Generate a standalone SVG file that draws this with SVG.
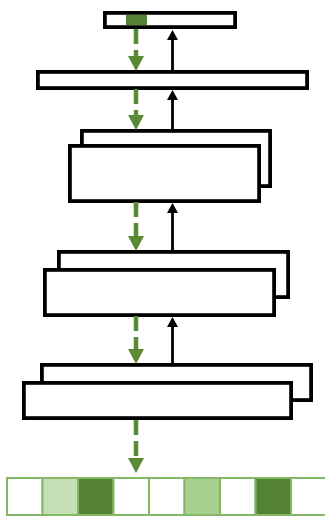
<svg xmlns="http://www.w3.org/2000/svg" width="325" height="519" viewBox="0 0 325 519">
  <style>
    .box { fill: #ffffff; stroke: #000000; stroke-width: 3.8; }
    .down { fill: none; stroke: #5a8a33; stroke-width: 4.5; stroke-dasharray: 15 6; }
    .up { fill: none; stroke: #000000; stroke-width: 2.8; }
    .cell { stroke: #84b766; stroke-width: 2; }
    .c0 { fill: #ffffff; }
    .c1 { fill: #c5e0b4; }
    .c2 { fill: #a9d18e; }
    .c3 { fill: #548235; }
  </style>
  <defs>
    <marker id="headDown" markerUnits="userSpaceOnUse" markerWidth="16" markerHeight="16" viewBox="0 0 16 16" refX="8" refY="0" orient="0" overflow="visible">
      <polygon points="0,0 16,0 8,15" fill="#5a8a33"/>
    </marker>
    <marker id="headUp" markerUnits="userSpaceOnUse" markerWidth="11" markerHeight="11" viewBox="0 0 11 11" refX="5.5" refY="0" orient="0" overflow="visible">
      <polygon points="0,0 11,0 5.5,-10" fill="#000000"/>
    </marker>
  </defs>

  <g id="input-row">
    <rect class="box" x="104.9" y="12.9" width="130.2" height="14.2"/>
    <rect x="126" y="14.8" width="21" height="10.4" fill="#548235"/>
  </g>

  <g id="layer-1">
    <rect class="box" x="37.9" y="71.9" width="269.2" height="16.2"/>
  </g>

  <g id="layer-2">
    <rect class="box" x="81.9" y="130.9" width="188.2" height="55.2"/>
    <rect class="box" x="69.9" y="145.9" width="189.2" height="55.2"/>
  </g>

  <g id="layer-3">
    <rect class="box" x="58.9" y="251.9" width="229.2" height="45.2"/>
    <rect class="box" x="44.9" y="269.9" width="229.2" height="45.2"/>
  </g>

  <g id="layer-4">
    <rect class="box" x="41.9" y="364.9" width="269.2" height="35.2"/>
    <rect class="box" x="23.9" y="382.9" width="267.2" height="35.2"/>
  </g>

  <g id="output-row">
    <rect class="cell c0" x="7" y="478" width="35.5" height="37"/>
    <rect class="cell c1" x="42.5" y="478" width="35.5" height="37"/>
    <rect class="cell c3" x="78" y="478" width="35.5" height="37"/>
    <rect class="cell c0" x="113.5" y="478" width="35.5" height="37"/>
    <rect class="cell c0" x="149" y="478" width="35.5" height="37"/>
    <rect class="cell c2" x="184.5" y="478" width="35.5" height="37"/>
    <rect class="cell c0" x="220" y="478" width="35.5" height="37"/>
    <rect class="cell c3" x="255.5" y="478" width="35.5" height="37"/>
    <rect class="cell c0" x="291" y="478" width="35.5" height="37"/>
  </g>

  <g id="connectors">
    <!-- dashed green: forward pass, downward -->
    <path class="down" d="M136 29 V56" marker-end="url(#headDown)"/>
    <path class="down" d="M136 89 V115" marker-end="url(#headDown)"/>
    <path class="down" d="M136 202 V236" marker-end="url(#headDown)"/>
    <path class="down" d="M136 316 V349" marker-end="url(#headDown)"/>
    <path class="down" d="M136 420 V458" marker-end="url(#headDown)"/>
    <!-- solid black: backward pass, upward -->
    <path class="up" d="M172.5 70 V40" marker-end="url(#headUp)"/>
    <path class="up" d="M172.5 129 V100" marker-end="url(#headUp)"/>
    <path class="up" d="M172.5 250 V213" marker-end="url(#headUp)"/>
    <path class="up" d="M172.5 363 V327" marker-end="url(#headUp)"/>
  </g>
</svg>
